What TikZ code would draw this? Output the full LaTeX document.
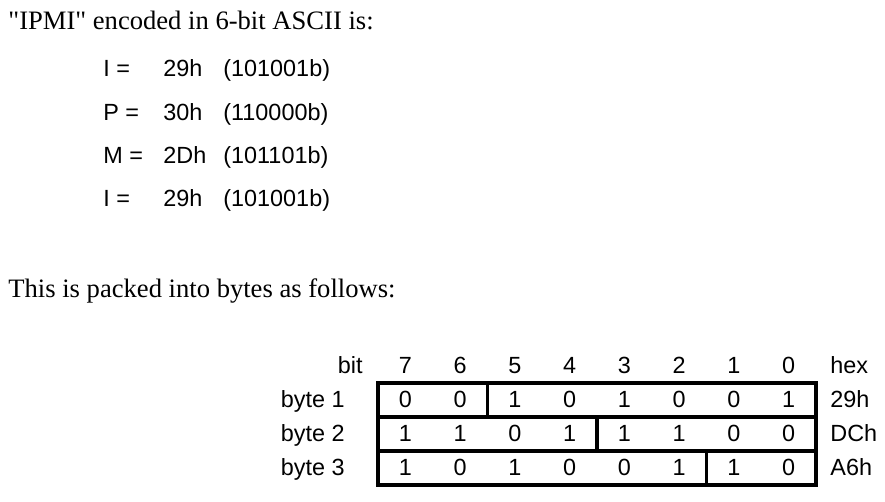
\documentclass[tikz,border=0pt]{standalone}
\usepackage{fontspec}
\setmainfont{Liberation Serif}
\setsansfont{Liberation Sans}
\usetikzlibrary{positioning}

\tikzset{
 txt/.style={anchor=base west,inner sep=0pt},
 lbl/.style={anchor=base east,inner sep=0pt},
 bitval/.style={anchor=base,inner sep=0pt},
 prose/.style={txt,font=\rmfamily\fontsize{13.3}{16}\selectfont},
 box/.style={line width=1.7pt}
}

\begin{document}
\begin{tikzpicture}[x=.5pt,y=-.5pt,font=\sffamily\fontsize{11.7}{14}\selectfont]
\useasboundingbox (0,0) rectangle (885,502);
\node[prose] (intro) at (8,30) {\textquotedbl IPMI\textquotedbl\ encoded in 6-bit ASCII is:};
\foreach \c/\h/\b [count=\r] in {I/29h/101001b,P/30h/110000b,M/2Dh/101101b,I/29h/101001b}{
 \node[txt] (chr\r) at (103,{77+43.3*(\r-1)}) {\c\ =};
 \node[txt] (hx\r) at (163,{77+43.3*(\r-1)}) {\h};
 \node[txt] (bn\r) at (223,{77+43.3*(\r-1)}) {(\b)};
}
\node[prose] (packed) at (8,298) {This is packed into bytes as follows:};
% header row
\node[lbl] (bit) at (363,374) {bit};
\foreach \b [count=\k from 0] in {7,6,...,0}
 \node[bitval] (hd\b) at ({378+54.75*(\k+.5)},374) {\b};
\node[txt] (hex) at (830,374) {hex};
% bytes
\foreach \bits/\hx/\cut [count=\r] in {{0,0,1,0,1,0,0,1}/29h/2,{1,1,0,1,1,1,0,0}/DCh/4,{1,0,1,0,0,1,1,0}/A6h/6}{
 \pgfmathsetmacro{\top}{383+34*(\r-1)}
 \draw[box] (378,\top) rectangle (816,\top+34);
 \draw[box] ({378+54.75*\cut},\top) -- ++(0,34);
 \node[lbl] (byte\r) at (345,\top+25) {byte \r};
 \foreach \v [count=\k from 0] in \bits
  \node[bitval] (v\r-\k) at ({378+54.75*(\k+.5)},\top+25) {\v};
 \node[txt] (val\r) at (830,\top+25) {\hx};
}
\end{tikzpicture}
\end{document}
